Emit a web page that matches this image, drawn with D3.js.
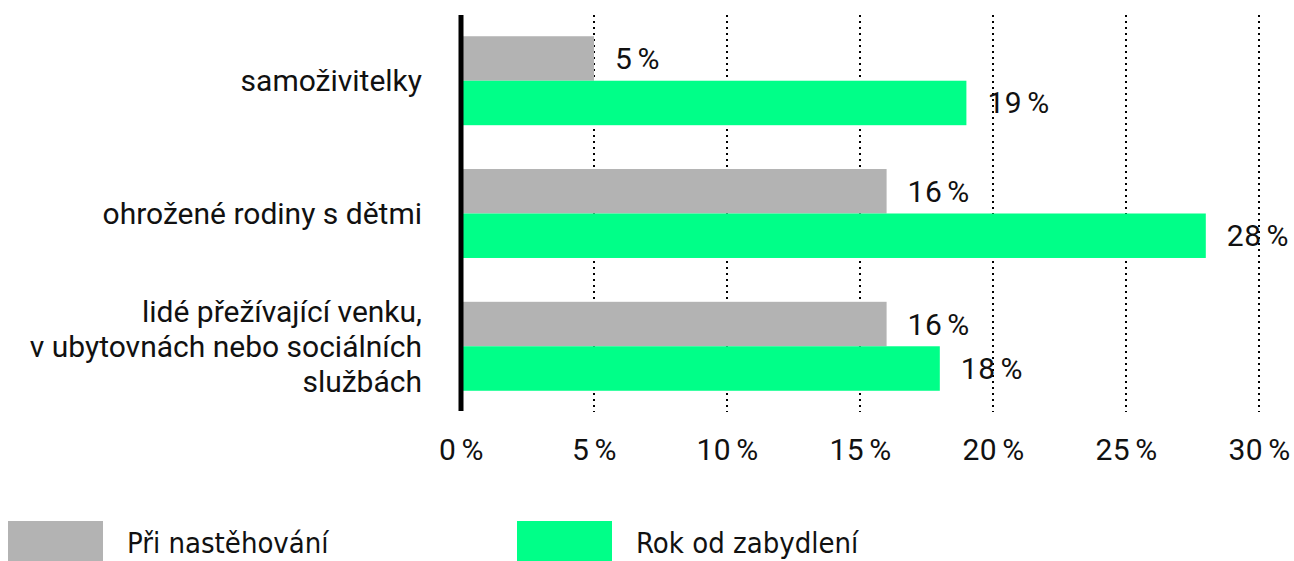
<!DOCTYPE html>
<html lang="cs">
  <head>
    <meta charset="utf-8">
    <title>Podíl domácností</title>
    <style>
      body { margin: 0; background: #fff; }
      .cat-label { font-family: Roboto, "Noto Sans", sans-serif; font-size: 30px; fill: #111; text-anchor: end; }
      .val-label { font-family: Roboto, "Noto Sans", sans-serif; font-size: 30px; fill: #111; letter-spacing: 0.5px; }
      .x.axis text { font-family: Roboto, "Noto Sans", sans-serif; font-size: 30px; fill: #111; letter-spacing: 0.5px; }
      .x.axis .domain { display: none; }
      .grid line { stroke: #000; stroke-width: 2; stroke-dasharray: 2,4; }
      .legend text { font-family: "Liberation Sans Narrow", "DejaVu Sans Condensed", sans-serif; font-size: 29px; fill: #111; }
    </style>
  </head>
  <body>
    <div id="chart"></div>
    <script src="https://cdn.jsdelivr.net/npm/d3@7"></script>
    <script>

    var categories = ["samoživitelky", "ohrožené rodiny s dětmi", "lidé přežívající venku"];
    var catLines = [
      ["samoživitelky"],
      ["ohrožené rodiny s dětmi"],
      ["lidé přežívající venku,", "v ubytovnách nebo sociálních", "službách"]
    ];
    var seriesNames = ["Při nastěhování", "Rok od zabydlení"];
    var atMoveIn = [5, 16, 16];
    var afterYear = [19, 28, 18];
    var xTicks = [0, 5, 10, 15, 20, 25, 30];
    var colors = ["#b3b3b3", "#00ff88"];

    var width = 1294, height = 561;
    var x0 = 461, x1 = 1259, yTop = 15, yBottom = 412;

    // number + loosely spaced percent sign
    function pct(sel, v) {
      sel.text(null);
      sel.append("tspan").text(v);
      sel.append("tspan").attr("dx", 5).text("%");
    }

    var svg = d3.select("#chart").append("svg")
                .attr("width", width)
                .attr("height", height);

    var x = d3.scaleLinear()
              .domain([0, 30])
              .range([x0, x1]);

    var y = d3.scaleBand()
              .domain(categories)
              .range([yTop, yBottom])
              .paddingInner(0.33)
              .paddingOuter(0.16);

    var ySub = d3.scaleBand()
                 .domain(seriesNames)
                 .range([0, y.bandwidth()]);

    // dotted gridlines
    svg.append("g")
       .attr("class", "grid")
       .selectAll("line")
       .data(xTicks.filter(function(d) { return d > 0; }))
       .enter()
       .append("line")
       .attr("x1", function(d) { return x(d); })
       .attr("x2", function(d) { return x(d); })
       .attr("y1", yTop)
       .attr("y2", yBottom);

    var rows = categories.map(function(c, i) {
      return { cat: c, lines: catLines[i], vals: [atMoveIn[i], afterYear[i]] };
    });

    var groups = svg.selectAll(".row")
                    .data(rows)
                    .enter()
                    .append("g")
                    .attr("class", "row")
                    .attr("transform", function(d) { return "translate(0," + y(d.cat) + ")"; });

    groups.selectAll("rect")
          .data(function(d) { return d.vals.map(function(v, j) { return { s: seriesNames[j], v: v, j: j }; }); })
          .enter()
          .append("rect")
          .attr("x", x(0))
          .attr("y", function(d) { return ySub(d.s); })
          .attr("width", function(d) { return x(d.v) - x(0); })
          .attr("height", ySub.bandwidth())
          .attr("fill", function(d) { return colors[d.j]; });

    groups.selectAll(".val-label")
          .data(function(d) { return d.vals.map(function(v, j) { return { s: seriesNames[j], v: v }; }); })
          .enter()
          .append("text")
          .attr("class", "val-label")
          .attr("x", function(d) { return x(d.v) + 21; })
          .attr("y", function(d) { return ySub(d.s) + ySub.bandwidth() / 2; })
          .attr("dy", "0.35em")
          .each(function(d) { pct(d3.select(this), d.v); });

    // category labels, multi-line
    groups.each(function(d) {
      var g = d3.select(this);
      var lh = 35;
      var n = d.lines.length;
      d.lines.forEach(function(line, k) {
        g.append("text")
         .attr("class", "cat-label")
         .attr("x", 422)
         .attr("y", y.bandwidth() / 2 + (k - (n - 1) / 2) * lh)
         .attr("dy", "0.35em")
         .text(line);
      });
    });

    // zero line
    svg.append("line")
       .attr("x1", x(0)).attr("x2", x(0))
       .attr("y1", yTop).attr("y2", yBottom - 1)
       .attr("stroke", "#000")
       .attr("stroke-width", 5);

    var xAxis = d3.axisBottom(x)
                  .tickValues(xTicks)
                  .tickSize(0)
                  .tickPadding(0)
                  .tickFormat(function(d) { return d + "%"; });

    svg.append("g")
       .attr("class", "x axis")
       .attr("transform", "translate(0,449)")
       .call(xAxis)
       .selectAll("text")
       .attr("dy", "0.35em")
       .each(function(d) { pct(d3.select(this), d); });

    // legend
    var legendX = [8, 517];
    var legend = svg.selectAll(".legend")
                    .data(seriesNames)
                    .enter()
                    .append("g")
                    .attr("class", "legend")
                    .attr("transform", function(d, i) { return "translate(" + legendX[i] + ",521)"; });

    legend.append("rect")
          .attr("width", 95)
          .attr("height", 40)
          .attr("fill", function(d, i) { return colors[i]; });

    legend.append("text")
          .attr("x", 119)
          .attr("y", 32)
          .text(function(d) { return d; });

    </script>
  </body>
</html>
